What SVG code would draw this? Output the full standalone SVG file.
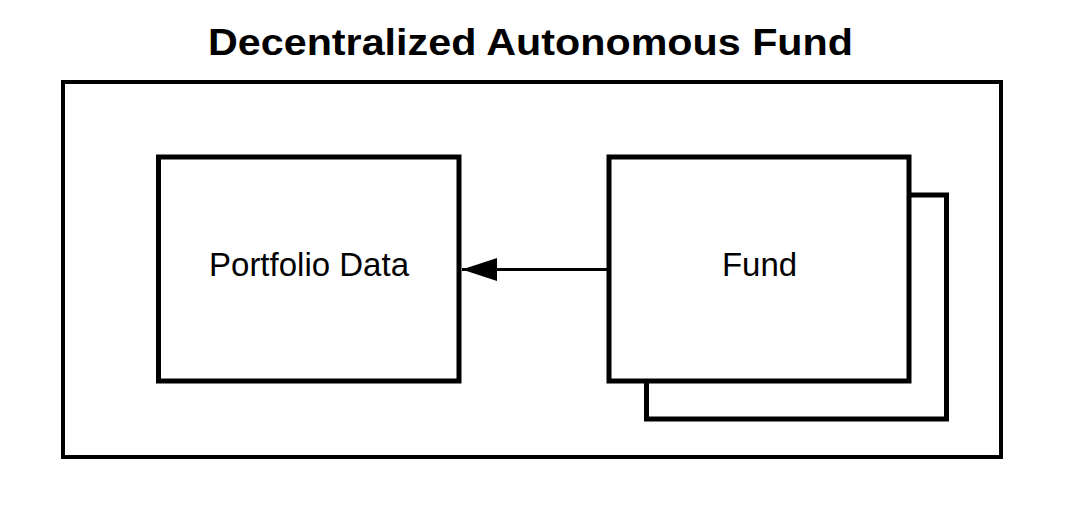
<svg xmlns="http://www.w3.org/2000/svg" width="1067" height="511" viewBox="0 0 1067 511">
  <style>
    .box { fill: #ffffff; stroke: #000000; stroke-width: 5; }
    .outer { fill: #ffffff; stroke: #000000; stroke-width: 4; }
    .label { font-family: "Liberation Sans", Arial, sans-serif; font-size: 33px; fill: #000000; text-anchor: middle; }
    .title { font-family: "Liberation Sans", Arial, sans-serif; font-size: 37.5px; font-weight: bold; fill: #000000; text-anchor: middle; }
    .conn { stroke: #000000; stroke-width: 3; fill: none; }
  </style>
  <defs>
    <marker id="arrow" markerUnits="userSpaceOnUse" markerWidth="36" markerHeight="24" refX="35" refY="11.5" orient="auto">
      <path d="M0,0 L35,11.5 L0,23 Z" fill="#000000"/>
    </marker>
  </defs>
  <rect width="1067" height="511" fill="#ffffff"/>
  <g id="title">
    <text class="title" x="530.5" y="55.3" textLength="645" lengthAdjust="spacingAndGlyphs">Decentralized Autonomous Fund</text>
  </g>
  <g id="container">
    <rect class="outer" x="63" y="82" width="938" height="375"/>
  </g>
  <g id="portfolio-data">
    <rect class="box" x="158.5" y="157" width="300.5" height="224"/>
    <text class="label" x="309" y="276" textLength="200" lengthAdjust="spacingAndGlyphs">Portfolio Data</text>
  </g>
  <g id="fund">
    <rect class="box" x="646.5" y="195" width="300" height="224"/>
    <rect class="box" x="609" y="157" width="300" height="224"/>
    <text class="label" x="759.5" y="276">Fund</text>
  </g>
  <g id="connectors">
    <line class="conn" x1="607" y1="269.5" x2="462" y2="269.5" marker-end="url(#arrow)"/>
  </g>
</svg>
